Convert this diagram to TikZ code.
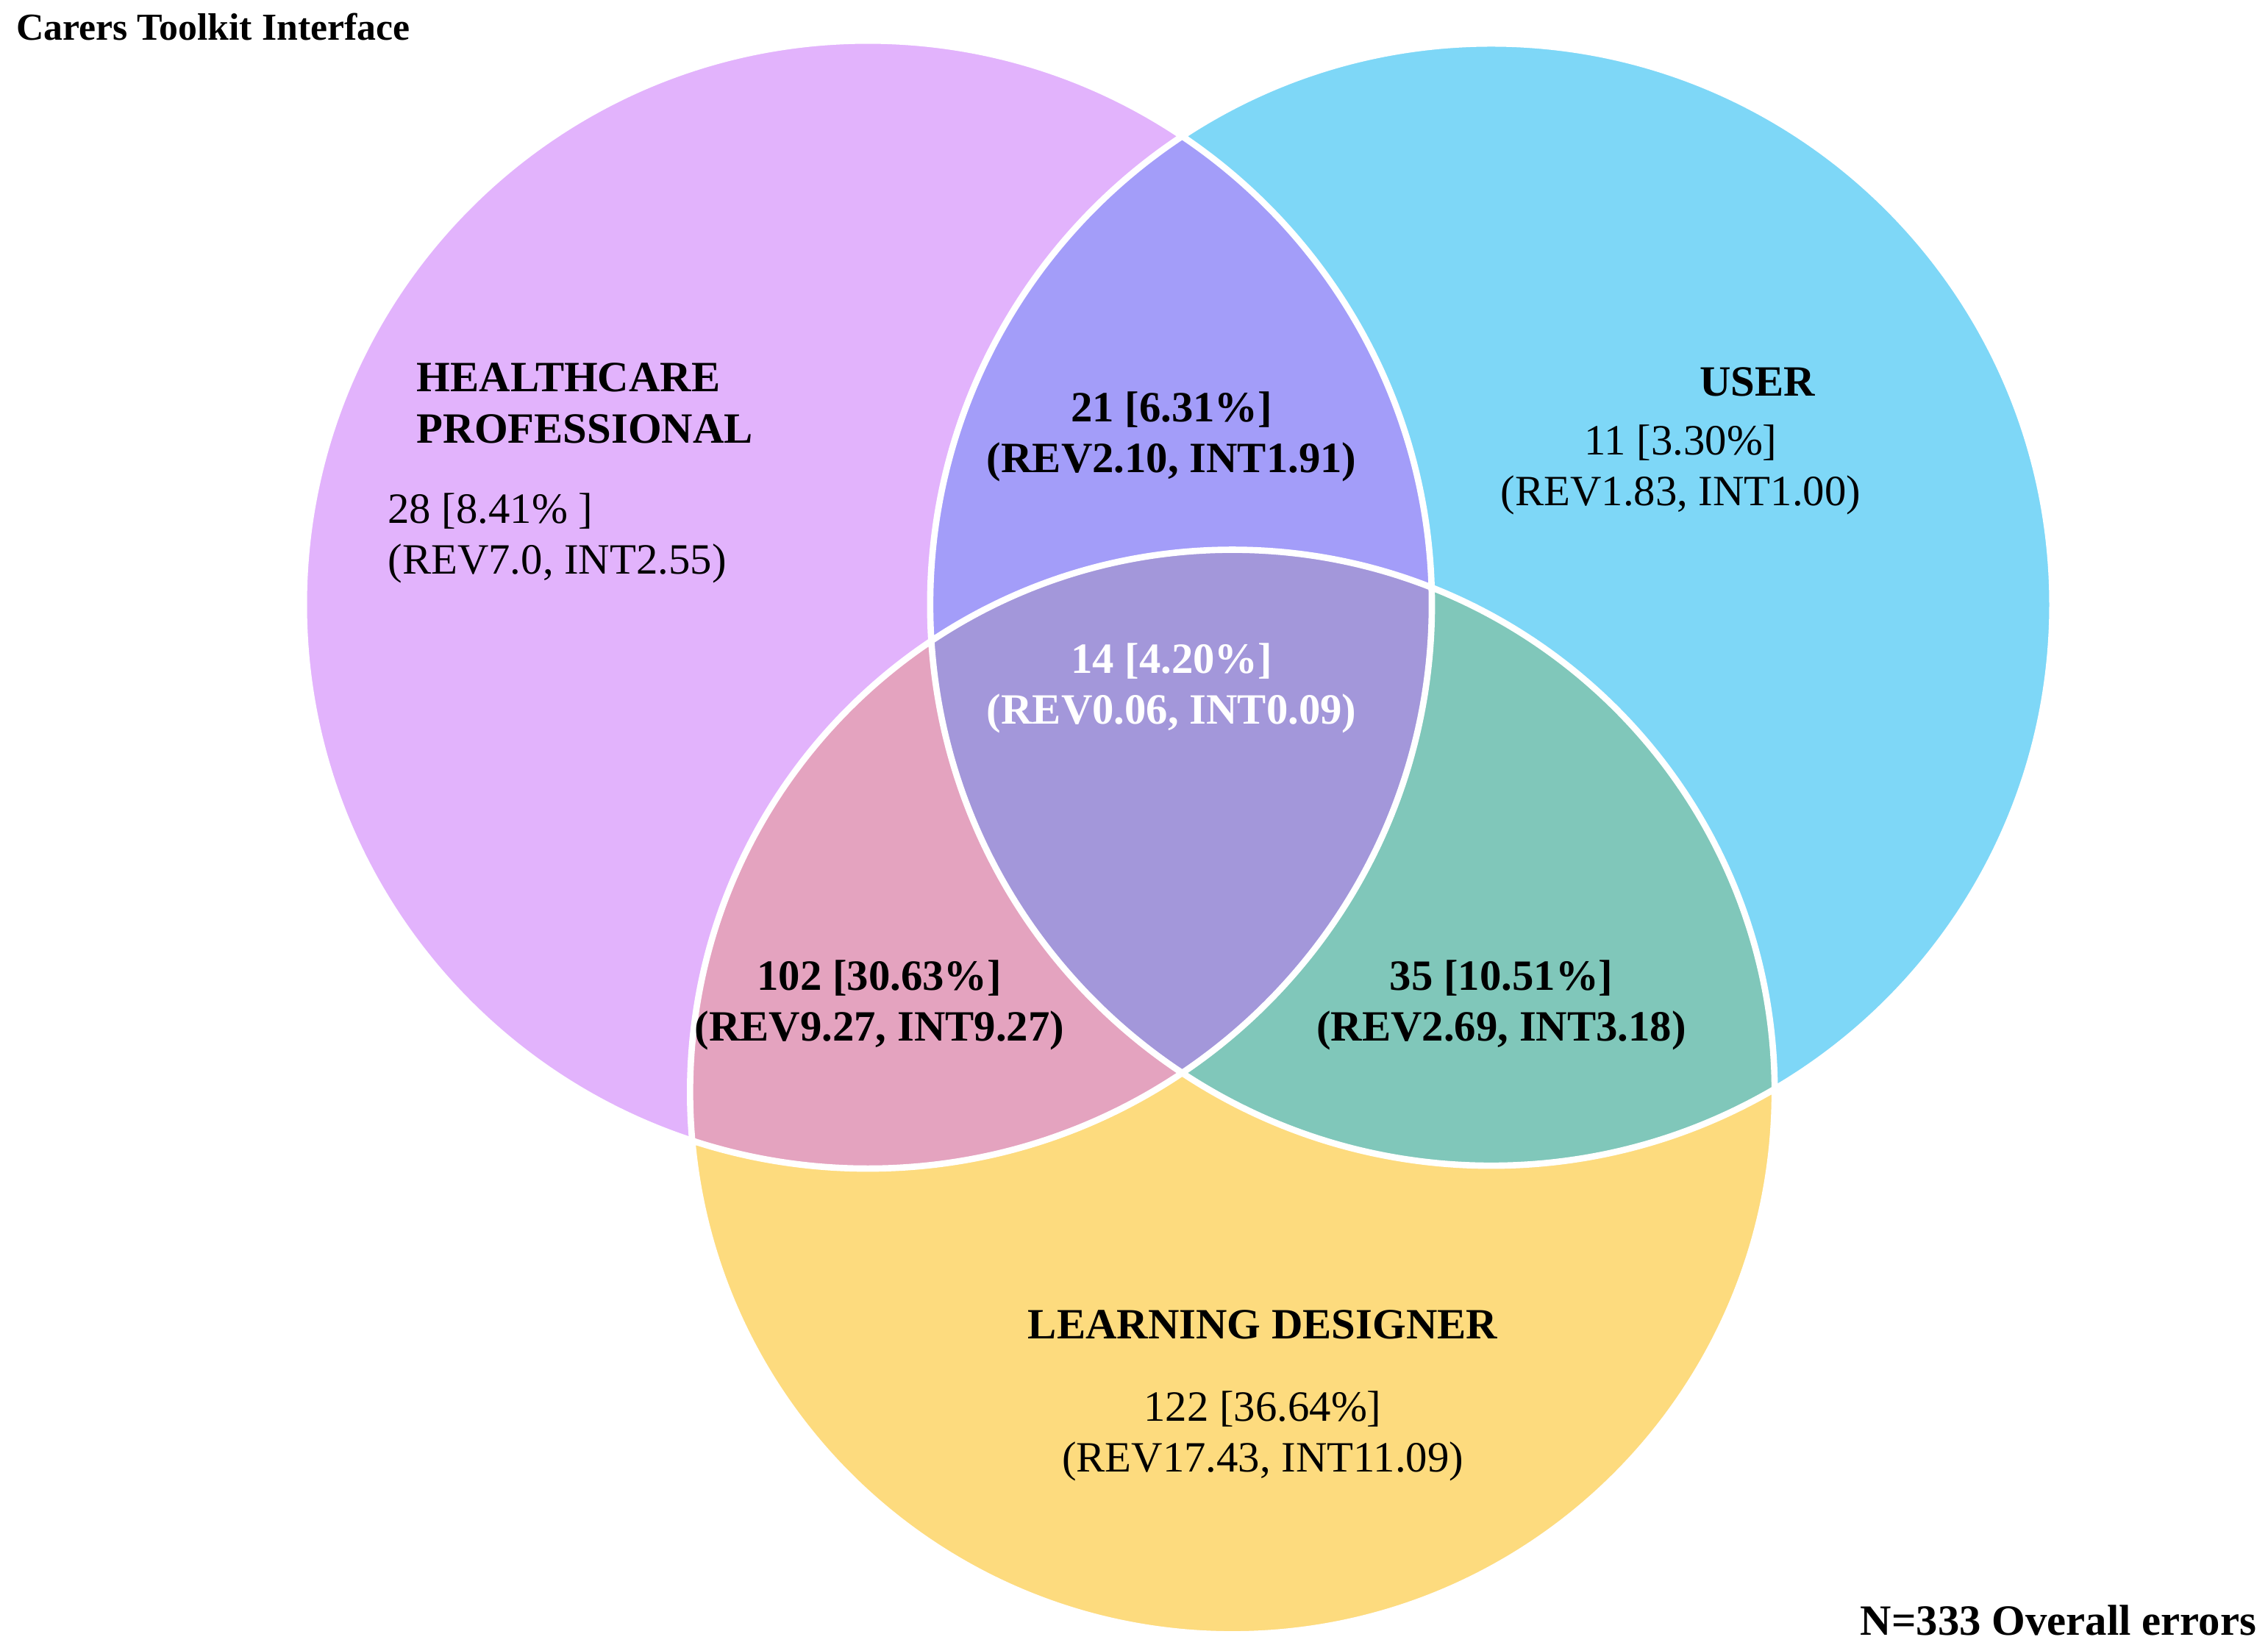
\documentclass[tikz,border=0pt]{standalone}
\usepackage{fontspec}
\setmainfont{Liberation Serif}
\begin{document}
\begin{tikzpicture}[x=0.02cm,y=-0.02cm,
  lab/.style={align=center,font=\fontsize{17}{20}\selectfont},
  blab/.style={lab,font=\fontsize{17}{20}\selectfont\bfseries}]
\definecolor{cP}{HTML}{E2B3FC}\definecolor{cB}{HTML}{7ED7F7}\definecolor{cY}{HTML}{FDDB7E}
\definecolor{cPB}{HTML}{A39DF9}\definecolor{cPY}{HTML}{E4A3BF}\definecolor{cBY}{HTML}{80C7BA}\definecolor{cC}{HTML}{A397DA}
\useasboundingbox (0,0) rectangle (1568,1139);
\def\RP{7.8cm}\def\RB{7.76cm}\def\RY{7.5cm}
\coordinate (P) at (600,418); \coordinate (B) at (1031,418); \coordinate (Y) at (852,755);
\fill[cY] (Y) circle[radius=\RY];
\fill[cB] (B) circle[radius=\RB];
\fill[cP] (P) circle[radius=\RP];
\begin{scope}\clip (P) circle[radius=\RP]; \fill[cPB] (B) circle[radius=\RB]; \fill[cPY] (Y) circle[radius=\RY];\end{scope}
\begin{scope}\clip (B) circle[radius=\RB]; \fill[cBY] (Y) circle[radius=\RY];
 \clip (P) circle[radius=\RP]; \fill[cC] (Y) circle[radius=\RY];\end{scope}
\draw[white,line width=2.5pt] (P) circle[radius=\RP] (B) circle[radius=\RB] (Y) circle[radius=\RY];
\node[anchor=north west,font=\fontsize{15}{18}\selectfont\bfseries] (t) at (5,3) {Carers Toolkit Interface};
\node[blab,align=left,anchor=north west] (hp) at (282,245) {HEALTHCARE\\PROFESSIONAL};
\node[lab,align=left,anchor=north west] (hpv) at (262,335) {28 [8.41\% ]\\(REV7.0, INT2.55)};
\node[blab] (u) at (1215,264) {USER};
\node[lab] (uv) at (1162,325) {11 [3.30\%]\\(REV1.83, INT1.00)};
\node[blab] (pb) at (810,302) {21 [6.31\%]\\(REV2.10, INT1.91)};
\node[blab,text=white] (c) at (810,476) {14 [4.20\%]\\(REV0.06, INT0.09)};
\node[blab] (py) at (608,695) {102 [30.63\%]\\(REV9.27, INT9.27)};
\node[blab] (by) at (1038,695) {35 [10.51\%]\\(REV2.69, INT3.18)};
\node[blab] (l) at (873,916) {LEARNING DESIGNER};
\node[lab] (lv) at (873,993) {122 [36.64\%]\\(REV17.43, INT11.09)};
\node[anchor=south east,font=\fontsize{17}{20}\selectfont\bfseries] (n) at (1566,1137) {N=333 Overall errors};
\end{tikzpicture}
\end{document}
